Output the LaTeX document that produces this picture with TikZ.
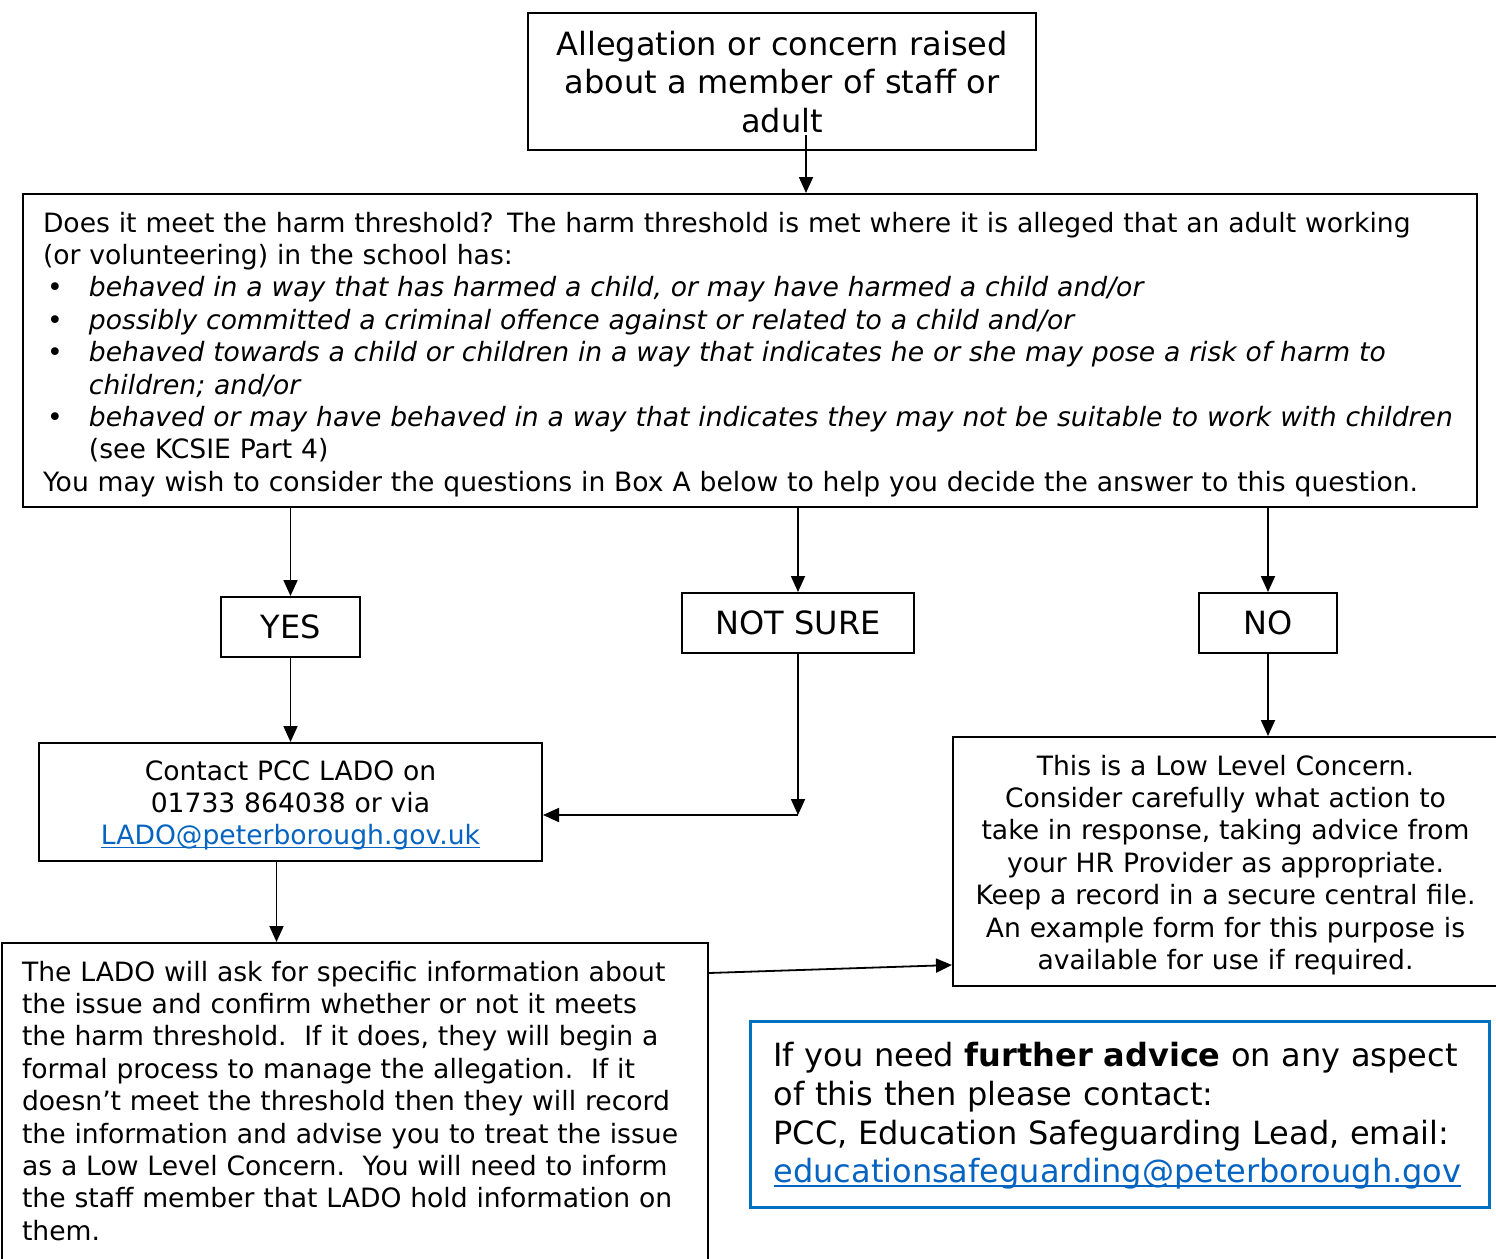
\documentclass[tikz,border=0pt]{standalone}
\usepackage{fontspec}
\setmainfont{DejaVu Sans}
\usetikzlibrary{arrows.meta}
\definecolor{linkblue}{HTML}{0563C1}
\definecolor{boxblue}{HTML}{0070C0}
\newcommand\txtnormal{\fontsize{13.3pt}{16.2pt}\selectfont}
\newcommand\txtlarge{\fontsize{16pt}{19.4pt}\selectfont}
\newcommand\bulletline[1]{\makebox[23pt][l]{\hspace{2pt}\textbullet}\textit{#1}}
\newcommand\weblink[1]{\textcolor{linkblue}{\setbox0=\hbox{#1}\rlap{\rule[-0.12em]{\wd0}{0.055em}}\box0}}
\tikzset{
  box/.style={draw, line width=1pt, inner sep=0pt, anchor=north west},
  arr/.style={-{Triangle[length=8pt,width=7pt]}, line width=0.9pt},
}
\begin{document}
\begin{tikzpicture}[x=0.5pt,y=-0.5pt]
\useasboundingbox (0,0) rectangle (1496,1259);
\clip (0,0) rectangle (1496,1259);
% boxes
\node[box, text width=254pt, align=center, text height=21pt, text depth=47.5pt, font=\txtlarge] (alleg) at (527,12) {Allegation or concern raised\\ about a member of staff or\\ adult};
\node[box, inner xsep=10pt, text width=707pt, align=left, text height=19pt, text depth=137.5pt, font=\txtnormal] (harm) at (22,193) {Does it meet the harm threshold? The harm threshold is met where it is alleged that an adult working\\
(or volunteering) in the school has:\\
\bulletline{behaved in a way that has harmed a child, or may have harmed a child and/or}\\
\bulletline{possibly committed a criminal offence against or related to a child and/or}\\
\bulletline{behaved towards a child or children in a way that indicates he or she may pose a risk of harm to}\\
\hspace*{23pt}\textit{children; and/or}\\
\bulletline{behaved or may have behaved in a way that indicates they may not be suitable to work with children}\\
\hspace*{23pt}(see KCSIE Part 4)\\
You may wish to consider the questions in Box A below to help you decide the answer to this question.};
\node[box, minimum width=69.5pt, minimum height=30pt, font=\txtlarge] (yes) at (220,596) {YES};
\node[box, minimum width=116pt, minimum height=30pt, font=\txtlarge] (notsure) at (681,592) {NOT SURE};
\node[box, minimum width=69pt, minimum height=30pt, font=\txtlarge] (no) at (1198,592) {NO};
\node[box, text width=251.5pt, align=center, text height=18.5pt, text depth=40.5pt, font=\txtnormal] (contact) at (38,742) {Contact PCC LADO on\\ 01733 864038 or via\\ \weblink{LADO@peterborough.gov.uk}};
\node[box, text width=272.5pt, align=center, text height=19pt, text depth=105.5pt, font=\txtnormal] (lowlevel) at (952,736) {This is a Low Level Concern.\\
Consider carefully what action to\\
take in response, taking advice from\\
your HR Provider as appropriate.\\
Keep a record in a secure central file.\\
An example form for this purpose is\\
available for use if required.};
\node[box, inner xsep=10pt, text width=333pt, align=left, text height=19pt, text depth=145pt, font=\txtnormal] (ladoinfo) at (1,942) {The LADO will ask for specific information about\\
the issue and confirm whether or not it meets\\
the harm threshold.\ \ If it does, they will begin a\\
formal process to manage the allegation.\ \ If it\\
doesn’t meet the threshold then they will record\\
the information and advise you to treat the issue\\
as a Low Level Concern.\ \ You will need to inform\\
the staff member that LADO hold information on\\
them.};
\node[box, draw=boxblue, line width=1.5pt, inner xsep=11.5pt, text width=346.5pt, align=left, text height=22.5pt, text depth=70.5pt, font=\txtlarge] (advice) at (749,1020) {If you need \textbf{further advice} on any aspect\\
of this then please contact:\\
PCC, Education Safeguarding Lead, email:\\
\weblink{educationsafeguarding@peterborough.gov}};
% connectors
\coordinate (a1) at ([xshift=12pt,yshift=8pt]alleg.south);
\draw[arr] (a1) -- (a1 |- harm.north);
\draw[arr] (yes |- harm.south) -- (yes);
\draw[arr] (notsure |- harm.south) -- (notsure);
\draw[arr] (no |- harm.south) -- (no);
\draw[arr] (yes) -- (contact);
\path (notsure.south) ++(0,161) coordinate (bend);
\draw[arr] (notsure.south) -- (bend);
\draw[arr] (bend) -- (bend -| contact.east);
\draw[arr] (no) -- (no |- lowlevel.north);
\coordinate (c1) at ([xshift=-7pt]contact.south);
\draw[arr] (c1) -- (c1 |- ladoinfo.north);
\draw[arr] ([yshift=-15.5pt]ladoinfo.north east) -- ([yshift=-114.5pt]lowlevel.north west);
\end{tikzpicture}
\end{document}
